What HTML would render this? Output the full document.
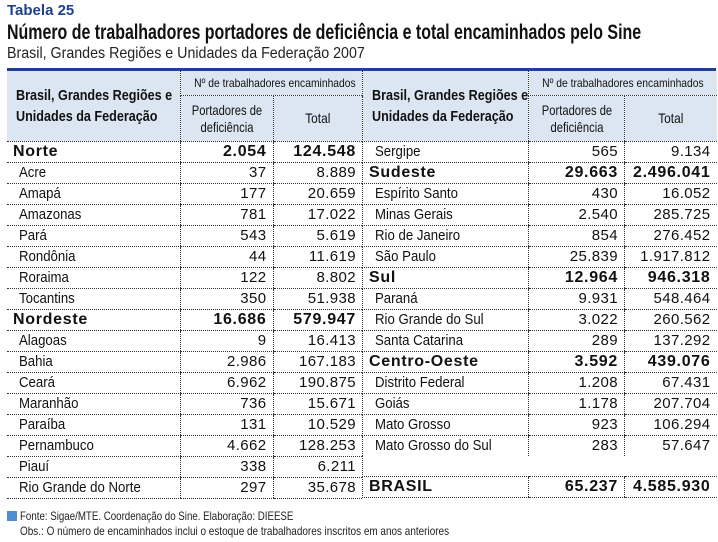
<!DOCTYPE html>
<html><head><meta charset="utf-8"><style>
body{margin:0;background:#fff;width:718px;height:542px;overflow:hidden;position:relative;font-family:"Liberation Sans",sans-serif;color:#111}
.sx{display:inline-block;white-space:nowrap;transform-origin:left center}
.t1{position:absolute;left:7px;top:2px;font-size:15px;font-weight:bold;color:#1f3f8f}
.t2{position:absolute;left:7px;top:21px;font-size:21px;font-weight:bold;color:#111;white-space:nowrap}
.t3{position:absolute;left:7px;top:45px;font-size:16px;color:#222;white-space:nowrap}
.bar{position:absolute;left:7px;top:68px;width:709px;height:3px;background:#1f3f8f}
table{position:absolute;top:71px;border-collapse:collapse;table-layout:fixed}
td{height:20px;padding:0 6px;border-bottom:1px dotted #333;white-space:nowrap;line-height:20px;font-size:15px;overflow:visible}
td span{display:inline-block;transform:scaleX(0.88);transform-origin:left center}
td.n{text-align:right;border-left:1px dotted #333;letter-spacing:0.4px}
td.ind{padding-left:12px}
tr.b td{font-weight:bold;font-size:16px;letter-spacing:0.7px}
tr.b td span{transform:none}
th{background:#dce6f2;font-weight:bold;border-bottom:1px dotted #333;padding:0;white-space:nowrap;overflow:hidden}
th.h{text-align:left;padding-left:9px;line-height:21px;font-size:15px}
th.s{font-weight:normal;font-size:12px;height:24px;border-left:1px dotted #333}
th.p{font-weight:normal;font-size:14px;height:45px;border-left:1px dotted #333;line-height:17px}
.foot{position:absolute;left:7px;font-size:12px;color:#222;white-space:nowrap}
.sq{display:inline-block;width:10px;height:10px;background:#4e8fd0;margin-right:3px;vertical-align:-1px}
.L{border-left:1px dotted #333}
</style></head><body>
<div class="t1">Tabela 25</div>
<div class="t2"><span class="sx" style="transform:scaleX(0.76)">Número de trabalhadores portadores de deficiência e total encaminhados pelo Sine</span></div>
<div class="t3"><span class="sx" style="transform:scaleX(0.89)">Brasil, Grandes Regiões e Unidades da Federação 2007</span></div>
<div class="bar"></div>
<table style="left:7px;width:355px">
<colgroup><col style="width:173px"><col style="width:93px"><col style="width:89px"></colgroup>
<tr><th class="h" rowspan="2"><span class="sx" style="transform:scaleX(0.84)">Brasil, Grandes Regiões e<br>Unidades da Federação</span></th><th class="s" colspan="2"><span class="sx" style="transform:scaleX(0.86);transform-origin:center">Nº de trabalhadores encaminhados</span></th></tr>
<tr><th class="p"><span class="sx" style="transform:scaleX(0.8);transform-origin:center">Portadores de<br>deficiência</span></th><th class="p"><span class="sx" style="transform:scaleX(0.85);transform-origin:center">Total</span></th></tr>
<tr class="b"><td>Norte</td><td class="n">2.054</td><td class="n">124.548</td></tr>
<tr><td class="ind"><span>Acre</span></td><td class="n">37</td><td class="n">8.889</td></tr>
<tr><td class="ind"><span>Amapá</span></td><td class="n">177</td><td class="n">20.659</td></tr>
<tr><td class="ind"><span>Amazonas</span></td><td class="n">781</td><td class="n">17.022</td></tr>
<tr><td class="ind"><span>Pará</span></td><td class="n">543</td><td class="n">5.619</td></tr>
<tr><td class="ind"><span>Rondônia</span></td><td class="n">44</td><td class="n">11.619</td></tr>
<tr><td class="ind"><span>Roraima</span></td><td class="n">122</td><td class="n">8.802</td></tr>
<tr><td class="ind"><span>Tocantins</span></td><td class="n">350</td><td class="n">51.938</td></tr>
<tr class="b"><td>Nordeste</td><td class="n">16.686</td><td class="n">579.947</td></tr>
<tr><td class="ind"><span>Alagoas</span></td><td class="n">9</td><td class="n">16.413</td></tr>
<tr><td class="ind"><span>Bahia</span></td><td class="n">2.986</td><td class="n">167.183</td></tr>
<tr><td class="ind"><span>Ceará</span></td><td class="n">6.962</td><td class="n">190.875</td></tr>
<tr><td class="ind"><span>Maranhão</span></td><td class="n">736</td><td class="n">15.671</td></tr>
<tr><td class="ind"><span>Paraíba</span></td><td class="n">131</td><td class="n">10.529</td></tr>
<tr><td class="ind"><span>Pernambuco</span></td><td class="n">4.662</td><td class="n">128.253</td></tr>
<tr><td class="ind"><span>Piauí</span></td><td class="n">338</td><td class="n">6.211</td></tr>
<tr><td class="ind"><span>Rio Grande do Norte</span></td><td class="n">297</td><td class="n">35.678</td></tr>
</table>
<table style="left:362px;width:354px">
<colgroup><col style="width:166px"><col style="width:96px"><col style="width:92px"></colgroup>
<tr><th class="h L" rowspan="2"><span class="sx" style="transform:scaleX(0.84)">Brasil, Grandes Regiões e<br>Unidades da Federação</span></th><th class="s" colspan="2"><span class="sx" style="transform:scaleX(0.86);transform-origin:center">Nº de trabalhadores encaminhados</span></th></tr>
<tr><th class="p"><span class="sx" style="transform:scaleX(0.8);transform-origin:center">Portadores de<br>deficiência</span></th><th class="p"><span class="sx" style="transform:scaleX(0.85);transform-origin:center">Total</span></th></tr>
<tr><td class="ind L"><span>Sergipe</span></td><td class="n">565</td><td class="n">9.134</td></tr>
<tr class="b"><td class="L">Sudeste</td><td class="n">29.663</td><td class="n">2.496.041</td></tr>
<tr><td class="ind L"><span>Espírito Santo</span></td><td class="n">430</td><td class="n">16.052</td></tr>
<tr><td class="ind L"><span>Minas Gerais</span></td><td class="n">2.540</td><td class="n">285.725</td></tr>
<tr><td class="ind L"><span>Rio de Janeiro</span></td><td class="n">854</td><td class="n">276.452</td></tr>
<tr><td class="ind L"><span>São Paulo</span></td><td class="n">25.839</td><td class="n">1.917.812</td></tr>
<tr class="b"><td class="L">Sul</td><td class="n">12.964</td><td class="n">946.318</td></tr>
<tr><td class="ind L"><span>Paraná</span></td><td class="n">9.931</td><td class="n">548.464</td></tr>
<tr><td class="ind L"><span>Rio Grande do Sul</span></td><td class="n">3.022</td><td class="n">260.562</td></tr>
<tr><td class="ind L"><span>Santa Catarina</span></td><td class="n">289</td><td class="n">137.292</td></tr>
<tr class="b"><td class="L">Centro-Oeste</td><td class="n">3.592</td><td class="n">439.076</td></tr>
<tr><td class="ind L"><span>Distrito Federal</span></td><td class="n">1.208</td><td class="n">67.431</td></tr>
<tr><td class="ind L"><span>Goiás</span></td><td class="n">1.178</td><td class="n">207.704</td></tr>
<tr><td class="ind L"><span>Mato Grosso</span></td><td class="n">923</td><td class="n">106.294</td></tr>
<tr><td class="ind L" style="border-bottom:none"><span>Mato Grosso do Sul</span></td><td class="n" style="border-bottom:none">283</td><td class="n" style="border-bottom:none">57.647</td></tr>
<tr><td class="L"></td><td></td><td></td></tr>
<tr class="b"><td class="L">BRASIL</td><td class="n">65.237</td><td class="n">4.585.930</td></tr>
</table>
<div class="foot" style="top:509px"><span class="sq"></span><span class="sx" style="transform:scaleX(0.81)">Fonte: Sigae/MTE. Coordenação do Sine. Elaboração: DIEESE</span></div>
<div class="foot" style="top:524px;left:20px"><span class="sx" style="transform:scaleX(0.83)">Obs.: O número de encaminhados inclui o estoque de trabalhadores inscritos em anos anteriores</span></div>
</body></html>
